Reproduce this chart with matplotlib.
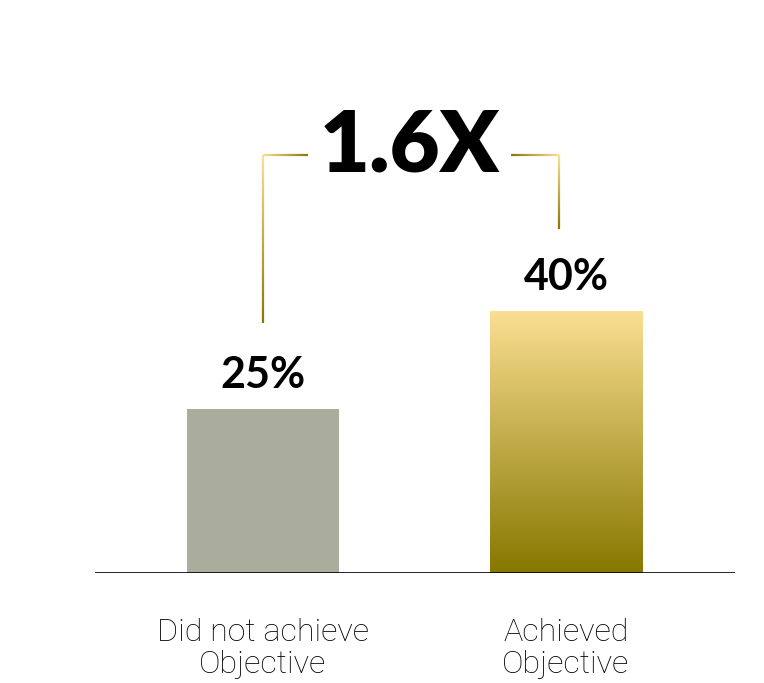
import numpy as np
import matplotlib.pyplot as plt
from matplotlib.collections import LineCollection
from matplotlib.colors import LinearSegmentedColormap

categories = ['Did not achieve\nObjective', 'Achieved\nObjective']
values = [25, 40]
value_labels = ['25%', '40%']
ratio_label = '1.6X'

gray = '#abad9c'
gold_light = '#fadf92'
gold_dark = '#877800'
gold_map = LinearSegmentedColormap.from_list('gold', [gold_dark, gold_light])

fig = plt.figure(figsize=(7.64, 6.83), dpi=100)
ax = fig.add_axes([95 / 764, 110 / 683, 640 / 764, 573 / 683])
ax.set_xlim(-0.554, 1.558)
ax.set_ylim(0, 87.5)
ax.axis('off')

x = np.arange(len(categories))
width = 0.502

# plain grey bar + gradient bar (image clipped to the bar)
bars = ax.bar(x, values, width=width, color=[gray, 'none'], edgecolor='none')
grad = np.linspace(0, 1, 256).reshape(-1, 1)
b = bars[1]
im = ax.imshow(grad, cmap=gold_map, origin='lower', aspect='auto',
               extent=[b.get_x(), b.get_x() + b.get_width(), 0, b.get_height()],
               zorder=2)
im.set_clip_path(b)

ax.axhline(0, xmin=0, xmax=1, color='black', lw=1.2)

for xi, v, lab in zip(x, values, value_labels):
    ax.text(xi, v + 3.2, lab, ha='center', va='baseline', fontsize=31,
            fontweight='bold', family='Lato')

for xi, cat in zip(x, categories):
    ax.text(xi, -6.9, cat, ha='center', va='top', fontsize=23.2,
            fontweight='light', family='Roboto', linespacing=1.12,
            color='black')

# bracket with gradient: light at corners, dark at the ends
top = 63.8
ends = [values[0] + 13.2, values[1] + 12.5]
left_x, right_x = x[0], x[1] - 0.023
gap_l, gap_r = 0.15, 0.818


def grad_line(p0, p1, n=60):
    xs = np.linspace(p0[0], p1[0], n + 1)
    ys = np.linspace(p0[1], p1[1], n + 1)
    pts = np.column_stack([xs, ys]).reshape(-1, 1, 2)
    segs = np.concatenate([pts[:-1], pts[1:]], axis=1)
    t = np.linspace(1, 0, n)
    lc = LineCollection(segs, colors=gold_map(t), linewidths=1.6,
                        capstyle='butt')
    ax.add_collection(lc)


grad_line((left_x, top), (left_x, ends[0]))
grad_line((left_x, top), (gap_l, top))
grad_line((right_x, top), (right_x, ends[1]))
grad_line((right_x, top), (gap_r, top))

ax.text(0.484, top + 1.3, ratio_label, ha='center', va='center', fontsize=62,
        fontweight='heavy', family='Lato')

fig.savefig('out.png', dpi=100, facecolor='white')
